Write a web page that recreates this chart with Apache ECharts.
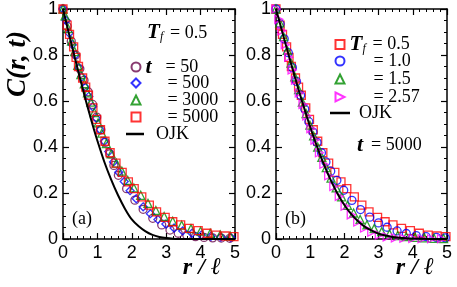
<!DOCTYPE html>
<html><head><meta charset="utf-8">
<script src="https://cdn.jsdelivr.net/npm/echarts@6/dist/echarts.min.js"></script>
<style>html,body{margin:0;padding:0;background:#fff}#c{width:457px;height:287px}</style>
</head><body><div id="c"></div><script>
// ---------- data ----------
const xTicks = [0, 1, 2, 3, 4, 5];
const yTicks = [0, 0.2, 0.4, 0.6, 0.8, 1];

// panel (a): T_f = 0.5, different times
const aT50X = [0, 0.12, 0.24, 0.37, 0.49, 0.61, 0.73, 0.86, 0.98, 1.10, 1.23, 1.36, 1.48, 1.61, 1.85, 2.09, 2.33, 2.61, 2.87, 3.11, 3.35, 3.60, 3.85, 4.10, 4.35, 4.60, 4.85];
const aT50Y = [1.0, 0.925, 0.86, 0.80, 0.74, 0.69, 0.64, 0.585, 0.53, 0.475, 0.42, 0.37, 0.32, 0.277, 0.219, 0.169, 0.129, 0.09, 0.061, 0.039, 0.025, 0.016, 0.010, 0.007, 0.005, 0.004, 0.003];
const aT500X = [0, 0.09, 0.18, 0.27, 0.36, 0.46, 0.55, 0.65, 0.75, 0.86, 0.97, 1.08, 1.20, 1.33, 1.47, 1.62, 1.78, 1.95, 2.13, 2.33, 2.54, 2.76, 2.99, 3.23, 3.48, 3.75, 4.02, 4.30, 4.59, 4.88];
const aT500Y = [1.0, 0.95, 0.895, 0.845, 0.80, 0.745, 0.705, 0.66, 0.62, 0.575, 0.525, 0.475, 0.425, 0.38, 0.335, 0.29, 0.25, 0.21, 0.175, 0.14, 0.11, 0.085, 0.065, 0.048, 0.035, 0.025, 0.017, 0.012, 0.008, 0.006];
const aT3000X = [0, 0.06, 0.15, 0.25, 0.34, 0.43, 0.52, 0.62, 0.71, 0.81, 0.91, 1.02, 1.13, 1.26, 1.40, 1.55, 1.71, 1.88, 2.06, 2.26, 2.47, 2.70, 2.94, 3.19, 3.45, 3.72, 4.00, 4.28, 4.57, 4.86];
const aT3000Y = [1.0, 0.97, 0.915, 0.86, 0.815, 0.755, 0.715, 0.675, 0.635, 0.595, 0.55, 0.505, 0.46, 0.415, 0.37, 0.33, 0.295, 0.255, 0.222, 0.19, 0.155, 0.124, 0.098, 0.077, 0.06, 0.045, 0.034, 0.025, 0.018, 0.013];
// T_f = 0.5, t = 5000 (shown in both panels)
const sq05X = [0, 0.12, 0.19, 0.31, 0.38, 0.45, 0.57, 0.66, 0.74, 0.87, 0.98, 1.09, 1.22, 1.37, 1.54, 1.72, 1.90, 2.07, 2.29, 2.51, 2.72, 2.97, 3.19, 3.42, 3.67, 3.93, 4.19, 4.45, 4.71, 4.97];
const sq05Y = [1.0, 0.93, 0.89, 0.835, 0.79, 0.75, 0.70, 0.66, 0.625, 0.57, 0.52, 0.475, 0.425, 0.375, 0.33, 0.29, 0.248, 0.219, 0.183, 0.147, 0.118, 0.094, 0.075, 0.061, 0.046, 0.036, 0.025, 0.017, 0.013, 0.010];
const ojkAX = [0, 0.1, 0.2, 0.3, 0.4, 0.5, 0.6, 0.7, 0.8, 0.9, 1.0, 1.2, 1.4, 1.6, 1.8, 2.0, 2.2, 2.4, 2.6, 2.8, 3.0, 3.2, 3.4, 4.0, 5.0];
const ojkAY = [1.0, 0.938, 0.876, 0.815, 0.755, 0.696, 0.638, 0.582, 0.528, 0.476, 0.427, 0.336, 0.258, 0.19, 0.132, 0.085, 0.055, 0.033, 0.018, 0.009, 0.004, 0.0015, 0.0005, 0, 0];

// panel (b): t = 5000, different T_f
const bT10X = [0, 0.12, 0.24, 0.36, 0.48, 0.60, 0.72, 0.84, 0.96, 1.08, 1.20, 1.33, 1.46, 1.60, 1.78, 1.98, 2.22, 2.47, 2.74, 3.00, 3.25, 3.54, 3.81, 4.10, 4.39, 4.69, 4.95];
const bT10Y = [1.0, 0.935, 0.87, 0.81, 0.745, 0.685, 0.625, 0.565, 0.51, 0.465, 0.42, 0.375, 0.335, 0.295, 0.255, 0.212, 0.168, 0.128, 0.095, 0.07, 0.051, 0.035, 0.024, 0.015, 0.01, 0.007, 0.005];
const bT15X = [0, 0.11, 0.22, 0.33, 0.44, 0.55, 0.66, 0.77, 0.88, 0.99, 1.10, 1.22, 1.34, 1.47, 1.61, 1.76, 1.92, 2.09, 2.27, 2.46, 2.66, 2.87, 3.09, 3.32, 3.56, 3.81, 4.07, 4.34, 4.62, 4.90];
const bT15Y = [1.0, 0.94, 0.88, 0.82, 0.765, 0.705, 0.65, 0.595, 0.545, 0.495, 0.448, 0.40, 0.355, 0.31, 0.265, 0.222, 0.183, 0.146, 0.113, 0.085, 0.062, 0.045, 0.032, 0.022, 0.015, 0.01, 0.007, 0.005, 0.003, 0.002];
const bT257X = [0, 0.08, 0.17, 0.27, 0.37, 0.47, 0.57, 0.68, 0.79, 0.90, 1.02, 1.14, 1.27, 1.40, 1.54, 1.69, 1.85, 2.02, 2.20, 2.39, 2.59, 2.80, 3.02, 3.25, 3.49, 3.74, 4.00, 4.27, 4.55, 4.84];
const bT257Y = [1.0, 0.955, 0.905, 0.845, 0.79, 0.735, 0.69, 0.635, 0.585, 0.535, 0.48, 0.43, 0.375, 0.325, 0.275, 0.228, 0.185, 0.143, 0.105, 0.074, 0.048, 0.03, 0.017, 0.009, 0.005, 0.003, 0.002, 0.001, 0.001, 0.001];
const ojkBX = [0, 0.1, 0.2, 0.3, 0.4, 0.5, 0.6, 0.7, 0.8, 0.9, 1.0, 1.2, 1.4, 1.6, 1.8, 2.0, 2.2, 2.4, 2.6, 2.8, 3.0, 3.2, 3.4, 3.6, 3.8, 4.0, 4.5, 5.0];
const ojkBY = [1.0, 0.946, 0.891, 0.837, 0.784, 0.732, 0.68, 0.629, 0.581, 0.533, 0.487, 0.402, 0.324, 0.256, 0.197, 0.148, 0.108, 0.077, 0.053, 0.036, 0.023, 0.015, 0.009, 0.0055, 0.003, 0.0017, 0.0004, 0];

// ---------- helpers ----------
const pairs = (xs, ys) => xs.map((x, i) => [x, ys[i]]);
const SERIF = '"Liberation Serif", "DejaVu Serif", serif';
const SANS = '"Liberation Sans", Arial, sans-serif';
const DIAMOND = 'path://M5,0 L10,5 L5,10 L0,5 Z';
const RTRI = 'path://M0,0 L10,5 L0,10 Z';

function xAxis(grid, pos, labels) {
  return {
    type: 'value', gridIndex: grid, position: pos, min: 0, max: 5, interval: 1,
    axisLine: { show: true, onZero: false, lineStyle: { color: '#000', width: 1.5 } },
    axisTick: { show: true, inside: true, length: 6, lineStyle: { color: '#000', width: 1.2 } },
    minorTick: { show: true, splitNumber: 5, length: 3, lineStyle: { color: '#000', width: 1 } },
    splitLine: { show: false }, minorSplitLine: { show: false },
    axisLabel: { show: labels, color: '#000', fontFamily: SANS, fontSize: 18, margin: 5,
      showMinLabel: true, showMaxLabel: true, hideOverlap: false,
      formatter: v => String(xTicks.find(t => Math.abs(t - v) < 1e-9) ?? v) }
  };
}
function yAxis(grid, pos, labels) {
  return {
    type: 'value', gridIndex: grid, position: pos, min: 0, max: 1, interval: 0.2,
    axisLine: { show: true, onZero: false, lineStyle: { color: '#000', width: 1.5 } },
    axisTick: { show: true, inside: true, length: 6, lineStyle: { color: '#000', width: 1.2 } },
    minorTick: { show: true, splitNumber: 4, length: 3, lineStyle: { color: '#000', width: 1 } },
    splitLine: { show: false }, minorSplitLine: { show: false },
    axisLabel: { show: labels, color: '#000', fontFamily: SANS, fontSize: 18, margin: 5,
      showMinLabel: true, showMaxLabel: true, hideOverlap: false,
      formatter: v => { const t = yTicks.find(t => Math.abs(t - v) < 1e-9); return t === 0 ? '0' : t === 1 ? '1' : (t ?? v).toFixed(1); } }
  };
}
function scatter(name, xi, yi, xs, ys, symbol, size, color) {
  return {
    name, type: 'scatter', xAxisIndex: xi, yAxisIndex: yi, data: pairs(xs, ys),
    symbol, symbolSize: size, clip: false,
    itemStyle: { color: 'rgba(255,255,255,0)', borderColor: color, borderWidth: 1.3 },
    emphasis: { disabled: true }
  };
}
function line(name, xi, yi, xs, ys) {
  return {
    name, type: 'line', xAxisIndex: xi, yAxisIndex: yi, data: pairs(xs, ys),
    showSymbol: false, symbol: 'none', smooth: 0.3, clip: false, color: '#000',
    lineStyle: { color: '#000', width: 2 }, emphasis: { disabled: true }
  };
}

const MAROON = '#6a0a4c', BLUE = '#0000ff', GREEN = '#008b00', RED = '#ff0000', MAGENTA = '#ff00ff';

const legendText = {
  a50: '{t|t}{v|= 50}', a500: '{p|= 500}', a3000: '{p|= 3000}', a5000: '{p|= 5000}',
  b05: '{T|T}{s|f}{v|= 0.5}', b10: '{q|= 1.0}', b15: '{q|= 1.5}', b257: '{q|= 2.57}',
  aOJK: '{o|OJK}', bOJK: '{o|OJK}'
};
const LH = 18;
const rich = {
  t: { fontFamily: SERIF, fontStyle: 'italic', fontWeight: 'bold', fontSize: 22, lineHeight: LH, width: 20, color: '#000' },
  T: { fontFamily: SERIF, fontStyle: 'italic', fontWeight: 'bold', fontSize: 21, lineHeight: LH, width: 13, color: '#000' },
  s: { fontFamily: SERIF, fontStyle: 'italic', fontSize: 12, lineHeight: LH, width: 10, padding: [8, 0, 0, 0], color: '#000' },
  v: { fontFamily: SERIF, fontSize: 18, lineHeight: LH, color: '#000' },
  p: { fontFamily: SERIF, fontSize: 18, lineHeight: LH, color: '#000', padding: [0, 0, 0, 22] },
  q: { fontFamily: SERIF, fontSize: 18, lineHeight: LH, color: '#000', padding: [0, 0, 0, 24] },
  o: { fontFamily: SERIF, fontSize: 18, lineHeight: LH, color: '#000' }
};
// one legend per entry, so each row sits exactly where the reference has it
function legendItem(name, iconLeft, cy, w, h, gap, icon) {
  const l = {
    data: [name], left: iconLeft, top: cy - LH / 2, orient: 'vertical', padding: 0,
    itemWidth: w, itemHeight: h, selectedMode: false,
    formatter: n => legendText[n],
    textStyle: { color: '#000', fontFamily: SERIF, fontSize: 18, rich, padding: [0, 0, 0, gap] }
  };
  if (icon) l.icon = icon;
  return l;
}

const option = {
  animation: false,
  backgroundColor: '#fff',
  grid: [
    { left: 63, width: 172, top: 8, height: 231 },
    { left: 276, width: 171, top: 8, height: 231 }
  ],
  xAxis: [xAxis(0, 'bottom', true), xAxis(0, 'top', false), xAxis(1, 'bottom', true), xAxis(1, 'top', false)],
  yAxis: [yAxis(0, 'left', true), yAxis(0, 'right', false), yAxis(1, 'left', true), yAxis(1, 'right', false)],
  legend: [
    legendItem('a50', 130.5, 65, 9, 9, 0),
    legendItem('a500', 130.5, 83, 9, 9, 0),
    legendItem('a3000', 130.5, 100, 9, 9, 0),
    legendItem('a5000', 130.5, 117, 9, 9, 0),
    legendItem('aOJK', 126, 134, 18, 2.5, 7, 'rect'),
    legendItem('b05', 334.5, 43, 9, 9, 0),
    legendItem('b10', 334.5, 61, 9, 9, 0),
    legendItem('b15', 334.5, 79, 9, 9, 0),
    legendItem('b257', 334.5, 97, 9, 9, 0),
    legendItem('bOJK', 330, 113, 20, 2.5, 4, 'rect')
  ],
  series: [
    scatter('a50', 0, 0, aT50X, aT50Y, 'circle', 8, MAROON),
    scatter('a500', 0, 0, aT500X, aT500Y, DIAMOND, 8, BLUE),
    scatter('a3000', 0, 0, aT3000X, aT3000Y, 'triangle', 8, GREEN),
    scatter('a5000', 0, 0, sq05X, sq05Y, 'rect', 8, RED),
    line('aOJK', 0, 0, ojkAX, ojkAY),
    scatter('b05', 2, 2, sq05X, sq05Y, 'rect', 8, RED),
    scatter('b10', 2, 2, bT10X, bT10Y, 'circle', 8, BLUE),
    scatter('b15', 2, 2, bT15X, bT15Y, 'triangle', 8, GREEN),
    scatter('b257', 2, 2, bT257X, bT257Y, RTRI, 8, MAGENTA),
    line('bOJK', 2, 2, ojkBX, ojkBY)
  ],
  graphic: [
    { type: 'text', x: 18, y: 64, rotation: Math.PI / 2,
      style: { text: 'C(r, t)', font: 'italic bold 27px "Liberation Serif"', fill: '#000', align: 'center', verticalAlign: 'middle' } },
    { type: 'text', x: 202, y: 268,
      style: { text: 'r / ℓ', font: 'italic bold 24px "Liberation Serif"', fill: '#000', align: 'center', verticalAlign: 'middle' } },
    { type: 'text', x: 415, y: 268,
      style: { text: 'r / ℓ', font: 'italic bold 24px "Liberation Serif"', fill: '#000', align: 'center', verticalAlign: 'middle' } },
    { type: 'text', x: 147, y: 33,
      style: { text: '{T|T}{s|f}{v|= 0.5}', rich, align: 'left', verticalAlign: 'middle' } },
    { type: 'text', x: 357, y: 145,
      style: { text: '{t|t}{v|= 5000}', rich: Object.assign({}, rich, { t: Object.assign({}, rich.t, { width: 14 }) }), align: 'left', verticalAlign: 'middle' } },
    { type: 'text', x: 72, y: 219,
      style: { text: '(a)', font: '18px "Liberation Serif"', fill: '#000', align: 'left', verticalAlign: 'middle' } },
    { type: 'text', x: 285, y: 219,
      style: { text: '(b)', font: '18px "Liberation Serif"', fill: '#000', align: 'left', verticalAlign: 'middle' } }
  ]
};
const chart = echarts.init(document.getElementById('c'), null, { renderer: 'canvas' });
chart.setOption(option);
</script></body></html>
